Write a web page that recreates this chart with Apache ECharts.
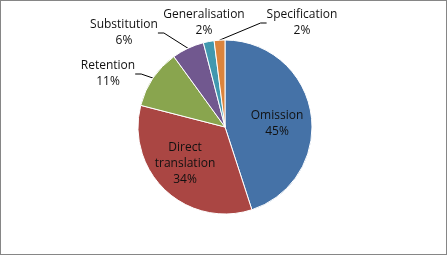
<!DOCTYPE html>
<html>
<head>
<meta charset="utf-8">
<script src="https://cdn.jsdelivr.net/npm/echarts@6/dist/echarts.min.js"></script>
<style>
html,body{margin:0;padding:0;background:#fff;}
#frame{position:absolute;left:0;top:0;width:447px;height:255px;box-sizing:border-box;border:1px solid #868686;}
#chart{position:absolute;left:0;top:0;width:448px;height:255px;}
</style>
</head>
<body>
<div id="chart"></div>
<div id="frame"></div>
<script>
const categories = ['Omission', 'Direct translation', 'Retention', 'Substitution', 'Generalisation', 'Specification'];
const values = [45, 34, 11, 6, 2, 2];
const colors = ['#4572A7', '#AA4643', '#89A54E', '#71588F', '#4198AF', '#DB843D'];
const insideIdx = [0, 1];
const noLineIdx = [4];
const labelPos = [[277,124],[185,164],[108,74],[124,33],[204,23],[302,23]];

const data = categories.map((c, i) => ({
  name: c,
  value: values[i],
  itemStyle: { color: colors[i] },
  label: insideIdx.includes(i) ? { position: 'inside' } : { position: 'outside' },
  labelLine: { show: !insideIdx.includes(i) && !noLineIdx.includes(i) }
}));

const chart = echarts.init(document.getElementById('chart'), null, { renderer: 'canvas' });
chart.setOption({
  animation: false,
  backgroundColor: 'transparent',
  series: [{
    type: 'pie',
    center: [225, 127],
    radius: 87,
    startAngle: 90,
    clockwise: true,
    avoidLabelOverlap: false,
    data: data,
    itemStyle: { borderColor: '#ffffff', borderWidth: 1 },
    label: {
      show: true,
      fontFamily: 'Open Sans',
      fontSize: 12,
      lineHeight: 16,
      color: '#111',
      align: 'center',
      formatter: function (p) {
        const n = insideIdx.includes(p.dataIndex) ? p.name.replace(' ', '\n') : p.name;
        return n + '\n' + values[p.dataIndex] + '%';
      }
    },
    labelLine: { show: true, length: 8, length2: 6, lineStyle: { color: '#000', width: 1 } },
    labelLayout: function (p) {
      const pos = labelPos[p.dataIndex];
      return { x: pos[0], y: pos[1], align: 'center', verticalAlign: 'middle' };
    }
  }]
});
</script>
</body>
</html>
